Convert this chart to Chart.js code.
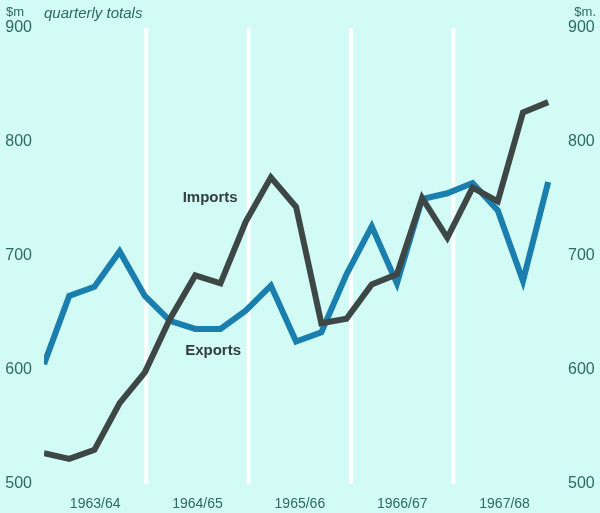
<!DOCTYPE html>
<html><head><meta charset="utf-8">
<script src="https://cdn.jsdelivr.net/npm/chart.js@4.4.4/dist/chart.umd.min.js"></script>
<style>
html,body{margin:0;padding:0;background:#d2fbf5;}
#wrap{width:600px;height:513px;position:relative;}
</style></head>
<body><div id="wrap"><canvas id="c" width="600" height="513"></canvas></div>
<script>
const years = ['1963/64', '1964/65', '1965/66', '1966/67', '1967/68'];
const imports = [527, 522, 530, 571, 598, 645, 683, 676, 730, 769, 743, 641, 645, 675, 684, 751, 716, 760, 748, 826, 835];
const exports = [605, 665, 673, 704, 665, 643, 636, 636, 652, 674, 625, 633, 684, 726, 676, 750, 755, 764, 740, 678, 765];
const yTicks = [500, 600, 700, 800, 900];

const TXT = '#2b6b60';
const yearW = 4.06;
const pts = a => a.map((v, i) => ({ x: i, y: v }));

const overlay = {
  id: 'overlay',
  beforeDatasetsDraw(chart) {
    const { ctx, chartArea: a, scales: { x } } = chart;
    ctx.save();
    ctx.strokeStyle = '#ffffff'; ctx.lineWidth = 4;
    for (let k = 1; k < years.length; k++) {
      const px = x.getPixelForValue(k * yearW);
      ctx.beginPath(); ctx.moveTo(px, a.top); ctx.lineTo(px, a.bottom); ctx.stroke();
    }
    ctx.restore();
  },
  afterDraw(chart) {
    const { ctx, scales: { x, y } } = chart;
    ctx.save();
    ctx.fillStyle = TXT;
    ctx.font = '13px "Liberation Sans", Arial';
    ctx.textAlign = 'left';
    ctx.fillText('$m', 6, 16);
    ctx.textAlign = 'right';
    ctx.fillText('$m.', 596, 16);
    ctx.font = 'italic 15px "Liberation Sans", Arial';
    ctx.textAlign = 'left';
    ctx.fillText('quarterly totals', 44, 18);
    ctx.font = 'bold 15px "Liberation Sans", Arial';
    ctx.fillStyle = '#333d3b';
    ctx.fillText('Imports', x.getPixelForValue(5.5), y.getPixelForValue(747));
    ctx.fillText('Exports', x.getPixelForValue(5.6), y.getPixelForValue(613));
    ctx.restore();
  }
};

new Chart(document.getElementById('c'), {
  type: 'line',
  data: {
    datasets: [
      { label: 'Imports', data: pts(imports), borderColor: '#3d4846', borderWidth: 6, pointRadius: 0, tension: 0, borderJoinStyle: 'miter' },
      { label: 'Exports', data: pts(exports), borderColor: '#1a7fae', borderWidth: 6, pointRadius: 0, tension: 0, borderJoinStyle: 'miter' }
    ]
  },
  options: {
    responsive: false, animation: false,
    layout: { padding: { top: 28, bottom: 0, left: 0, right: 0 } },
    plugins: { legend: { display: false }, tooltip: { enabled: false } },
    scales: {
      x: {
        type: 'linear', min: 0, max: 5 * yearW + 0.01,
        grid: { display: false }, border: { display: false },
        afterBuildTicks: s => { s.ticks = years.map((_, i) => ({ value: (i + 0.5) * yearW })); },
        afterFit: s => { s.height = 29; },
        ticks: { color: TXT, font: { size: 14, family: 'Liberation Sans' }, maxRotation: 0, padding: 4,
          callback: (v, i) => years[i] }
      },
      y: {
        min: 500, max: 900, position: 'left',
        grid: { display: false }, border: { display: false },
        afterBuildTicks: s => { s.ticks = yTicks.map(v => ({ value: v })); },
        afterFit: s => { s.width = 44; },
        ticks: { color: TXT, font: { size: 16, family: 'Liberation Sans' }, padding: 4 }
      },
      y2: {
        min: 500, max: 900, position: 'right',
        grid: { display: false }, border: { display: false },
        afterBuildTicks: s => { s.ticks = yTicks.map(v => ({ value: v })); },
        afterFit: s => { s.width = 44; },
        ticks: { color: TXT, font: { size: 16, family: 'Liberation Sans' }, padding: 4 }
      }
    }
  },
  plugins: [overlay]
});
</script></body></html>
